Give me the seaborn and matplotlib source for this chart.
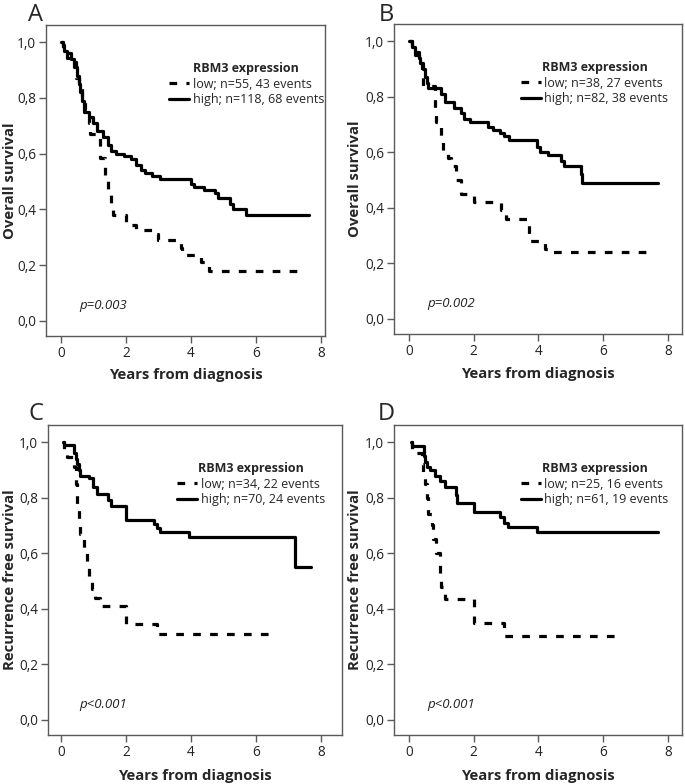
import matplotlib
matplotlib.use("Agg")
import matplotlib.pyplot as plt
import seaborn as sns
from matplotlib.lines import Line2D
from matplotlib.ticker import FuncFormatter

# --- Kaplan-Meier step data (time in years, survival) ---
a_high_t = [0, 0.05, 0.1, 0.2, 0.3, 0.4, 0.5, 0.55, 0.6, 0.65, 0.7, 0.85, 1.0, 1.1, 1.3, 1.45, 1.55,
            1.7, 1.95, 2.15, 2.3, 2.45, 2.6, 2.8, 3.05, 4.0, 4.1, 4.4, 4.75, 4.85, 5.2, 5.3, 5.7, 7.65]
a_high_s = [1.0, 0.99, 0.97, 0.96, 0.94, 0.91, 0.88, 0.85, 0.82, 0.79, 0.75, 0.73, 0.71, 0.68, 0.66, 0.63, 0.61,
            0.60, 0.59, 0.58, 0.56, 0.54, 0.53, 0.52, 0.51, 0.49, 0.48, 0.47, 0.46, 0.44, 0.42, 0.40, 0.38, 0.38]
a_low_t = [0, 0.05, 0.1, 0.2, 0.3, 0.45, 0.55, 0.65, 0.75, 0.8, 0.85, 0.9, 1.2, 1.35, 1.45, 1.55, 1.6,
           2.0, 2.3, 2.8, 3.0, 3.7, 3.72, 4.3, 4.55, 7.35]
a_low_s = [1.0, 0.98, 0.96, 0.945, 0.93, 0.87, 0.84, 0.80, 0.76, 0.73, 0.71, 0.67, 0.585, 0.51, 0.45, 0.415, 0.38,
           0.345, 0.325, 0.31, 0.29, 0.26, 0.235, 0.21, 0.18, 0.18]

b_high_t = [0, 0.1, 0.2, 0.3, 0.35, 0.45, 0.5, 0.55, 0.6, 1.0, 1.1, 1.4, 1.6, 1.7, 1.9, 2.45, 2.6, 2.8,
            2.95, 3.1, 3.95, 4.05, 4.3, 4.7, 4.8, 5.3, 5.35, 7.7]
b_high_s = [1.0, 0.98, 0.96, 0.94, 0.92, 0.90, 0.87, 0.85, 0.83, 0.81, 0.78, 0.76, 0.74, 0.72, 0.71, 0.69, 0.68, 0.67,
            0.66, 0.645, 0.62, 0.60, 0.59, 0.57, 0.55, 0.52, 0.49, 0.49]
b_low_t = [0, 0.1, 0.2, 0.3, 0.4, 0.45, 0.8, 0.85, 1.0, 1.05, 1.2, 1.3, 1.45, 1.6, 2.0, 2.85, 3.0, 3.7,
           4.2, 4.4, 7.55]
b_low_s = [1.0, 0.97, 0.95, 0.92, 0.87, 0.84, 0.76, 0.71, 0.64, 0.60, 0.58, 0.55, 0.50, 0.45, 0.42, 0.39, 0.36, 0.28,
           0.25, 0.24, 0.24]

c_high_t = [0.05, 0.1, 0.4, 0.45, 0.5, 0.55, 0.6, 0.85, 1.0, 1.1, 1.45, 1.55, 2.0, 2.85, 2.95, 3.05, 3.95, 7.2, 7.7]
c_high_s = [1.0, 0.99, 0.96, 0.94, 0.92, 0.90, 0.88, 0.87, 0.84, 0.815, 0.79, 0.77, 0.72, 0.705, 0.69, 0.675, 0.66,
            0.55, 0.55]
c_low_t = [0.05, 0.1, 0.2, 0.4, 0.45, 0.5, 0.55, 0.6, 0.7, 0.8, 0.85, 0.95, 1.05, 1.2, 2.0, 2.95, 6.6]
c_low_s = [1.0, 0.97, 0.945, 0.91, 0.85, 0.76, 0.70, 0.67, 0.62, 0.56, 0.50, 0.47, 0.44, 0.41, 0.345, 0.31, 0.31]

d_high_t = [0.05, 0.1, 0.47, 0.5, 0.55, 0.65, 0.8, 0.95, 1.1, 1.45, 1.5, 2.0, 2.8, 2.95, 3.05, 3.95, 7.7]
d_high_s = [1.0, 0.985, 0.95, 0.93, 0.91, 0.90, 0.88, 0.86, 0.84, 0.81, 0.78, 0.75, 0.73, 0.71, 0.695, 0.675, 0.675]
d_low_t = [0.05, 0.1, 0.4, 0.45, 0.5, 0.55, 0.6, 0.7, 0.75, 0.85, 0.95, 1.0, 1.1, 2.0, 2.95, 6.6]
d_low_s = [1.0, 0.96, 0.92, 0.89, 0.85, 0.80, 0.74, 0.70, 0.65, 0.60, 0.52, 0.48, 0.435, 0.35, 0.30, 0.30]

panel_letters = ["A", "B", "C", "D"]
y_titles = ["Overall survival", "Overall survival", "Recurrence free survival", "Recurrence free survival"]
low_labels = ["low; n=55, 43 events", "low; n=38, 27 events", "low; n=34, 22 events", "low; n=25, 16 events"]
high_labels = ["high; n=118, 68 events", "high; n=82, 38 events", "high; n=70, 24 events", "high; n=61, 19 events"]
p_texts = ["p=0.003", "p=0.002", "p<0.001", "p<0.001"]
x_ticks = [0, 2, 4, 6, 8]
y_ticks = [0.0, 0.2, 0.4, 0.6, 0.8, 1.0]

curves = [(a_low_t, a_low_s, a_high_t, a_high_s),
          (b_low_t, b_low_s, b_high_t, b_high_s),
          (c_low_t, c_low_s, c_high_t, c_high_s),
          (d_low_t, d_low_s, d_high_t, d_high_s)]

sns.set_theme(style="white")
plt.rcParams["font.family"] = ["Open Sans", "DejaVu Sans"]

W, H = 685, 784
fig = plt.figure(figsize=(W / 100, H / 100), dpi=100)

# axes boxes in pixels: left, top, right, bottom
boxes = [(46, 25, 325, 336), (394, 24, 682, 334), (48, 425, 342, 735), (394, 425, 682, 735)]
xlims = [(-0.46, 8.13), (-0.46, 8.43), (-0.40, 8.65), (-0.46, 8.43)]
ylabel_x = [10, 355, 10, 355]   # pixel x of y-label centre
xlabel_y = [375, 374, 776, 776]  # pixel y of x-label centre
letter_pos = [(28, 21), (379, 21), (28, 420), (378, 420)]

GREY = "#5a5a5a"
DASH = (0, (2.4, 2.9))

for i, (l, t, r, b) in enumerate(boxes):
    ax = fig.add_axes([l / W, 1 - b / H, (r - l) / W, (b - t) / H])
    low_t, low_s, high_t, high_s = curves[i]

    sns.lineplot(x=high_t, y=high_s, drawstyle="steps-post", color="black", lw=2.3,
                 estimator=None, sort=False, ax=ax)
    sns.lineplot(x=low_t, y=low_s, drawstyle="steps-post", color="black", lw=2.3,
                 estimator=None, sort=False, ax=ax)
    ax.lines[-1].set_linestyle(DASH)

    ax.set_xlim(*xlims[i])
    ax.set_ylim(-0.055, 1.062)
    ax.set_xticks(x_ticks)
    ax.set_yticks(y_ticks)
    ax.yaxis.set_major_formatter(FuncFormatter(lambda v, pos: f"{v:.1f}".replace(".", ",")))
    ax.tick_params(axis="both", direction="out", length=5, width=1, color=GREY,
                   labelsize=9.8, labelcolor="#222222", pad=2,
                   bottom=True, left=True)
    for sp in ax.spines.values():
        sp.set_color(GREY)
        sp.set_linewidth(1)

    ax.set_xlabel("Years from diagnosis", fontsize=10.7, fontweight="bold")
    ax.set_ylabel(y_titles[i], fontsize=10.7, fontweight="bold")
    ax.yaxis.set_label_coords((ylabel_x[i] - l) / (r - l), 0.5)
    ax.yaxis.label.set_verticalalignment("center")
    ax.xaxis.set_label_coords(0.5, (b - xlabel_y[i]) / (b - t))
    ax.xaxis.label.set_verticalalignment("center")

    ax.text(0.56, 0.055, p_texts[i], fontsize=9.5, style="italic", color="#222222",
            va="center", ha="left")

    handles = [Line2D([], [], color="black", lw=2.3, linestyle=DASH),
               Line2D([], [], color="black", lw=2.3)]
    ax.legend(handles, [low_labels[i], high_labels[i]], title="RBM3 expression",
              loc="upper left", bbox_to_anchor=(0.44, 0.88), frameon=False,
              fontsize=9, handlelength=1.6, handletextpad=0.3, labelspacing=0.2,
              borderpad=0, borderaxespad=0,
              title_fontproperties={"weight": "bold", "size": 9})

    fig.text(letter_pos[i][0] / W, 1 - letter_pos[i][1] / H, panel_letters[i],
             fontsize=17, va="baseline", ha="left")

fig.savefig("out.png", dpi=100)
